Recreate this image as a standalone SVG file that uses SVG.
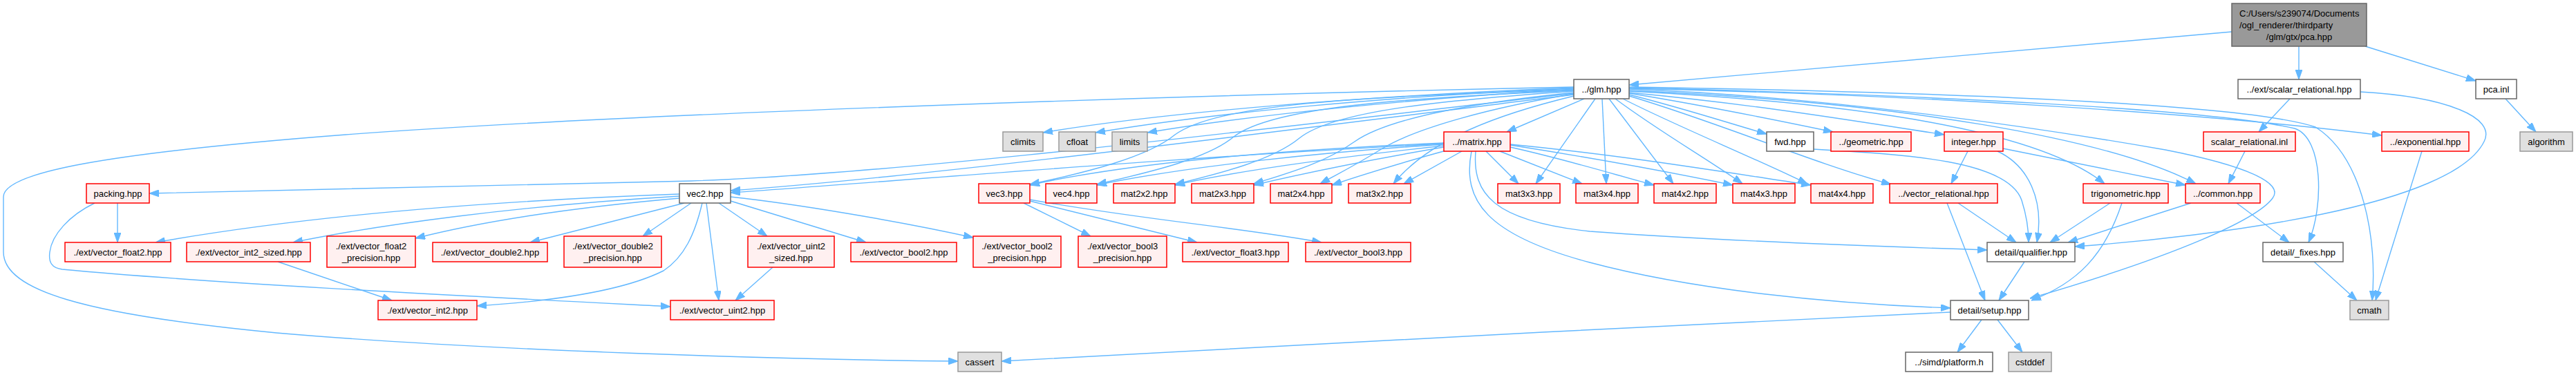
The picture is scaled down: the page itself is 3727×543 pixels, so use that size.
<svg xmlns="http://www.w3.org/2000/svg" width="3727" height="543" viewBox="0 0 3727 543">
<style>
text{font-family:"Liberation Sans",Arial,Helvetica,sans-serif;font-size:13px;fill:#000;text-anchor:middle}
.w{fill:#ffffff;stroke:#666666;stroke-width:1.5}
.g{fill:#e0e0e0;stroke:#999999;stroke-width:1.5}
.r{fill:#fff0f0;stroke:#ff0000;stroke-width:1.5}
.t{fill:#999999;stroke:#666666;stroke-width:1.5}
#edges path{fill:none;stroke:#63b8ff;stroke-width:1.4;marker-end:url(#a)}
</style>
<defs>
<marker id="a" markerUnits="userSpaceOnUse" markerWidth="14" markerHeight="10" refX="14" refY="5" orient="auto">
<path d="M0,0 L14,5 L0,10 z" fill="#63b8ff" stroke="#63b8ff" stroke-width="1"/>
</marker>
</defs>
<rect x="0" y="0" width="3727" height="543" fill="#ffffff"/>
<g id="edges">
<path d="M3229,46 L2357,123"/>
<path d="M3326,67 L3326,115"/>
<path d="M3422,67 L3582,117"/>
<path d="M3313,143 L3268,191"/>
<path d="M3415,133 C3540,140 3612,170 3594,205 C3572,250 3480,285 3360,310 C3240,335 3100,350 3002,357"/>
<path d="M3625,143 L3669,191"/>
<path d="M2277,126 C1700,138 900,165 500,195 C150,222 5,250 5,285 L5,365 C5,420 120,455 400,482 C700,508 1150,521 1386,523"/>
<path d="M2277,127 C2000,138 1700,160 1509,192"/>
<path d="M2277,128 C2000,140 1760,163 1585,192"/>
<path d="M2277,129 C2050,143 1820,165 1660,192"/>
<path d="M2277,130 C1950,140 1760,152 1700,195 C1660,228 1570,250 1490,267"/>
<path d="M2277,131 C2030,142 1840,155 1785,198 C1745,232 1650,252 1587,267"/>
<path d="M2277,132 C2090,145 1930,160 1880,200 C1840,233 1760,252 1700,267"/>
<path d="M2277,134 C2140,148 2010,170 1960,205 C1915,237 1860,252 1814,266"/>
<path d="M2277,136 C2160,155 2050,185 2000,215 C1960,240 1935,252 1910,266"/>
<path d="M2277,139 C2170,165 2070,200 2016,266"/>
<path d="M2277,137 C1850,190 1350,255 1057,276"/>
<path d="M2277,135 C1800,190 1300,252 1000,262 C700,270 400,278 216,280"/>
<path d="M2292,143 L2180,191"/>
<path d="M2308,143 L2222,266"/>
<path d="M2318,143 L2324,266"/>
<path d="M2328,143 L2421,266"/>
<path d="M2337,143 C2400,190 2470,230 2521,266"/>
<path d="M2348,143 C2420,180 2530,225 2615,266"/>
<path d="M2357,139 C2480,175 2620,235 2736,267"/>
<path d="M2357,137 C2440,158 2500,178 2556,194"/>
<path d="M2357,135 C2480,155 2580,176 2652,191"/>
<path d="M2357,134 C2550,152 2700,178 2813,195"/>
<path d="M2357,132 C2700,150 2950,190 3045,266"/>
<path d="M2357,131 C2750,148 3050,200 3177,266"/>
<path d="M2357,128 C2800,138 3200,165 3446,196"/>
<path d="M2357,127 C2800,138 3200,158 3320,186 C3362,200 3362,300 3340,351"/>
<path d="M2357,126 C2800,133 3250,150 3350,184 C3420,228 3440,350 3432,435"/>
<path d="M2357,129 C2650,140 2950,185 3133,217 C3250,240 3305,265 3288,287 C3265,318 3150,370 2937,432"/>
<path d="M2089,208 C1700,228 1300,262 1057,279"/>
<path d="M2089,207 C1900,215 1650,232 1490,268"/>
<path d="M2089,209 C1920,220 1720,240 1587,268"/>
<path d="M2089,211 C1960,225 1800,245 1700,268"/>
<path d="M2089,213 C1990,230 1890,250 1814,268"/>
<path d="M2092,218 C2030,235 1980,250 1927,268"/>
<path d="M2115,219 L2031,266"/>
<path d="M2150,219 L2197,266"/>
<path d="M2170,219 L2289,266"/>
<path d="M2185,213 C2270,232 2340,254 2393,268"/>
<path d="M2185,210 C2300,228 2420,250 2507,268"/>
<path d="M2185,209 C2350,225 2500,250 2620,268"/>
<path d="M2135,219 C2130,280 2160,320 2300,335 C2500,350 2750,358 2875,362"/>
<path d="M2129,219 C2115,290 2150,340 2300,380 C2450,420 2650,440 2822,446"/>
<path d="M170,294 L170,351"/>
<path d="M137,294 C100,312 75,340 72,365 C70,380 75,388 90,390 C300,410 700,430 970,444"/>
<path d="M983,281 C650,293 400,320 225,351"/>
<path d="M983,284 C750,298 550,325 424,351"/>
<path d="M983,287 C800,303 680,325 601,345"/>
<path d="M990,294 L767,351"/>
<path d="M1000,294 L930,342"/>
<path d="M1016,294 C1005,340 990,372 960,392 C900,422 800,436 690,443"/>
<path d="M1022,294 L1040,435"/>
<path d="M1040,294 L1110,342"/>
<path d="M1057,291 L1253,351"/>
<path d="M1057,285 C1150,295 1300,320 1408,344"/>
<path d="M402,379 L567,435"/>
<path d="M1118,387 L1064,435"/>
<path d="M1481,294 L1578,342"/>
<path d="M1490,291 L1732,351"/>
<path d="M1490,289 C1650,318 1800,330 1912,351"/>
<path d="M2833,294 L2917,351"/>
<path d="M2817,294 L2872,435"/>
<path d="M2847,219 L2823,266"/>
<path d="M2890,219 C2935,240 2958,290 2947,351"/>
<path d="M2898,215 L3162,268"/>
<path d="M2624,216 C2760,224 2905,232 2925,290 C2933,315 2935,335 2935,351"/>
<path d="M3053,294 L2966,351"/>
<path d="M3070,294 C3045,370 3005,410 2939,435"/>
<path d="M3170,294 L2992,351"/>
<path d="M3236,294 L3312,351"/>
<path d="M3248,219 L3224,266"/>
<path d="M3504,219 L3437,435"/>
<path d="M3348,379 L3410,435"/>
<path d="M2867,463 L2832,510"/>
<path d="M2890,463 L2926,510"/>
<path d="M2822,452 C2400,470 1800,505 1449,523"/>
<path d="M2929,379 L2892,435"/>
</g>
<g id="n_top"><rect class="t" x="3229" y="5" width="195" height="62"/><text x="3240" y="23.5" style="text-anchor:start">C:/Users/s239074/Documents</text><text x="3240" y="40.5" style="text-anchor:start">/ogl_renderer/thirdparty</text><text x="3326.5" y="57.5">/glm/gtx/pca.hpp</text></g>
<g id="n_glm"><rect class="w" x="2277" y="115" width="80" height="28"/><text x="2317" y="133.5">../glm.hpp</text></g>
<g id="n_srel"><rect class="w" x="3238" y="115" width="177" height="28"/><text x="3326.5" y="133.5">../ext/scalar_relational.hpp</text></g>
<g id="n_pcainl"><rect class="w" x="3582" y="115" width="59" height="28"/><text x="3611.5" y="133.5">pca.inl</text></g>
<g id="n_climits"><rect class="g" x="1451" y="191" width="58" height="28"/><text x="1480" y="209.5">climits</text></g>
<g id="n_cfloat"><rect class="g" x="1532" y="191" width="53" height="28"/><text x="1558.5" y="209.5">cfloat</text></g>
<g id="n_limits"><rect class="g" x="1609" y="191" width="51" height="28"/><text x="1634.5" y="209.5">limits</text></g>
<g id="n_matrix"><rect class="r" x="2089" y="191" width="96" height="28"/><text x="2137" y="209.5">../matrix.hpp</text></g>
<g id="n_fwd"><rect class="w" x="2556" y="191" width="68" height="28"/><text x="2590" y="209.5">fwd.hpp</text></g>
<g id="n_geometric"><rect class="r" x="2649" y="191" width="116" height="28"/><text x="2707" y="209.5">../geometric.hpp</text></g>
<g id="n_integer"><rect class="r" x="2813" y="191" width="85" height="28"/><text x="2855.5" y="209.5">integer.hpp</text></g>
<g id="n_srelinl"><rect class="r" x="3188" y="191" width="133" height="28"/><text x="3254.5" y="209.5">scalar_relational.inl</text></g>
<g id="n_exp"><rect class="r" x="3446" y="191" width="126" height="28"/><text x="3509" y="209.5">../exponential.hpp</text></g>
<g id="n_algorithm"><rect class="g" x="3646" y="191" width="76" height="28"/><text x="3684" y="209.5">algorithm</text></g>
<g id="n_packing"><rect class="r" x="125" y="266" width="91" height="28"/><text x="170.5" y="284.5">packing.hpp</text></g>
<g id="n_vec2"><rect class="w" x="983" y="266" width="74" height="28"/><text x="1020" y="284.5">vec2.hpp</text></g>
<g id="n_vec3"><rect class="r" x="1416" y="266" width="74" height="28"/><text x="1453" y="284.5">vec3.hpp</text></g>
<g id="n_vec4"><rect class="r" x="1513" y="266" width="74" height="28"/><text x="1550" y="284.5">vec4.hpp</text></g>
<g id="n_mat2x2"><rect class="r" x="1611" y="266" width="89" height="28"/><text x="1655.5" y="284.5">mat2x2.hpp</text></g>
<g id="n_mat2x3"><rect class="r" x="1724" y="266" width="90" height="28"/><text x="1769" y="284.5">mat2x3.hpp</text></g>
<g id="n_mat2x4"><rect class="r" x="1838" y="266" width="89" height="28"/><text x="1882.5" y="284.5">mat2x4.hpp</text></g>
<g id="n_mat3x2"><rect class="r" x="1951" y="266" width="90" height="28"/><text x="1996" y="284.5">mat3x2.hpp</text></g>
<g id="n_mat3x3"><rect class="r" x="2167" y="266" width="90" height="28"/><text x="2212" y="284.5">mat3x3.hpp</text></g>
<g id="n_mat3x4"><rect class="r" x="2280" y="266" width="90" height="28"/><text x="2325" y="284.5">mat3x4.hpp</text></g>
<g id="n_mat4x2"><rect class="r" x="2393" y="266" width="90" height="28"/><text x="2438" y="284.5">mat4x2.hpp</text></g>
<g id="n_mat4x3"><rect class="r" x="2507" y="266" width="90" height="28"/><text x="2552" y="284.5">mat4x3.hpp</text></g>
<g id="n_mat4x4"><rect class="r" x="2620" y="266" width="90" height="28"/><text x="2665" y="284.5">mat4x4.hpp</text></g>
<g id="n_vrel"><rect class="r" x="2734" y="266" width="156" height="28"/><text x="2812" y="284.5">../vector_relational.hpp</text></g>
<g id="n_trig"><rect class="r" x="3014" y="266" width="123" height="28"/><text x="3075.5" y="284.5">trigonometric.hpp</text></g>
<g id="n_common"><rect class="r" x="3162" y="266" width="108" height="28"/><text x="3216" y="284.5">../common.hpp</text></g>
<g id="n_vf2"><rect class="r" x="94" y="351" width="153" height="28"/><text x="170.5" y="369.5">./ext/vector_float2.hpp</text></g>
<g id="n_vi2s"><rect class="r" x="270" y="351" width="179" height="28"/><text x="359.5" y="369.5">./ext/vector_int2_sized.hpp</text></g>
<g id="n_vf2p"><rect class="r" x="473" y="342" width="128" height="45"/><text x="537" y="360.5">./ext/vector_float2</text><text x="537" y="377.5">_precision.hpp</text></g>
<g id="n_vd2"><rect class="r" x="626" y="351" width="166" height="28"/><text x="709" y="369.5">./ext/vector_double2.hpp</text></g>
<g id="n_vd2p"><rect class="r" x="816" y="342" width="141" height="45"/><text x="886.5" y="360.5">./ext/vector_double2</text><text x="886.5" y="377.5">_precision.hpp</text></g>
<g id="n_vu2s"><rect class="r" x="1082" y="342" width="125" height="45"/><text x="1144.5" y="360.5">./ext/vector_uint2</text><text x="1144.5" y="377.5">_sized.hpp</text></g>
<g id="n_vb2"><rect class="r" x="1231" y="351" width="153" height="28"/><text x="1307.5" y="369.5">./ext/vector_bool2.hpp</text></g>
<g id="n_vb2p"><rect class="r" x="1408" y="342" width="127" height="45"/><text x="1471.5" y="360.5">./ext/vector_bool2</text><text x="1471.5" y="377.5">_precision.hpp</text></g>
<g id="n_vb3p"><rect class="r" x="1560" y="342" width="128" height="45"/><text x="1624" y="360.5">./ext/vector_bool3</text><text x="1624" y="377.5">_precision.hpp</text></g>
<g id="n_vf3"><rect class="r" x="1711" y="351" width="153" height="28"/><text x="1787.5" y="369.5">./ext/vector_float3.hpp</text></g>
<g id="n_vb3"><rect class="r" x="1889" y="351" width="152" height="28"/><text x="1965" y="369.5">./ext/vector_bool3.hpp</text></g>
<g id="n_qual"><rect class="w" x="2875" y="351" width="127" height="28"/><text x="2938.5" y="369.5">detail/qualifier.hpp</text></g>
<g id="n_fixes"><rect class="w" x="3274" y="351" width="116" height="28"/><text x="3332" y="369.5">detail/_fixes.hpp</text></g>
<g id="n_vi2"><rect class="r" x="547" y="435" width="143" height="28"/><text x="618.5" y="453.5">./ext/vector_int2.hpp</text></g>
<g id="n_vu2"><rect class="r" x="970" y="435" width="150" height="28"/><text x="1045" y="453.5">./ext/vector_uint2.hpp</text></g>
<g id="n_setup"><rect class="w" x="2822" y="435" width="113" height="28"/><text x="2878.5" y="453.5">detail/setup.hpp</text></g>
<g id="n_cmath"><rect class="g" x="3400" y="435" width="56" height="28"/><text x="3428" y="453.5">cmath</text></g>
<g id="n_cassert"><rect class="g" x="1386" y="510" width="63" height="28"/><text x="1417.5" y="528.5">cassert</text></g>
<g id="n_platform"><rect class="w" x="2757" y="510" width="126" height="28"/><text x="2820" y="528.5">../simd/platform.h</text></g>
<g id="n_cstddef"><rect class="g" x="2906" y="510" width="62" height="28"/><text x="2937" y="528.5">cstddef</text></g>
</svg>
